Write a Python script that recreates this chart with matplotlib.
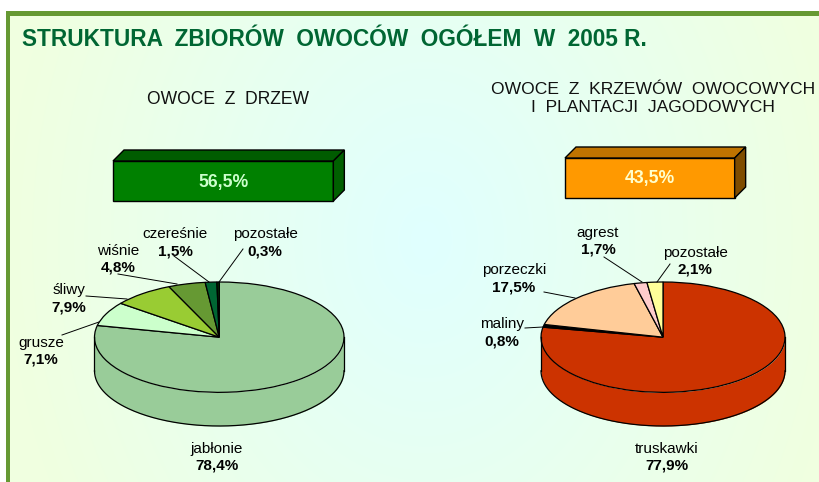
import matplotlib
matplotlib.use("Agg")
import matplotlib.pyplot as plt
import numpy as np
from matplotlib.colors import LinearSegmentedColormap
from matplotlib.patches import Polygon, Rectangle

plt.rcParams['font.family'] = ['Liberation Sans', 'DejaVu Sans']

W, H = 820, 482
DEPTH = 0.61   # pie wall height, in units of the squashed radius

title = "STRUKTURA  ZBIORÓW  OWOCÓW  OGÓŁEM  W  2005 R."
left_title = "OWOCE  Z  DRZEW"
right_title = "OWOCE  Z  KRZEWÓW  OWOCOWYCH\nI  PLANTACJI  JAGODOWYCH"

share_left = 56.5
share_right = 43.5
share_left_label = "56,5%"
share_right_label = "43,5%"

tree_names = ["jabłonie", "grusze", "śliwy", "wiśnie", "czereśnie", "pozostałe"]
tree_values = [78.4, 7.1, 7.9, 4.8, 1.5, 0.3]
tree_colors = ["#99cc99", "#ccffcc", "#99cc33", "#669933", "#006633", "#003300"]

bush_names = ["truskawki", "maliny", "porzeczki", "agrest", "pozostałe"]
bush_values = [77.9, 0.8, 17.5, 1.7, 2.1]
bush_colors = ["#cc3300", "#000000", "#ffcc99", "#ffcccc", "#ffff99"]

# label centres and leader lines, in pixels
tree_label_pos = [(217, 449), (41, 343), (69, 290), (118, 251), (175, 234), (265, 234)]
tree_leaders = [None, ((62, 335), (99, 322)), ((86, 296), (127, 299)),
                ((118, 274), (177, 284)), ((174, 256), (209, 282)), ((243, 249), (219, 282))]
bush_label_pos = [(667, 449), (502, 324), (514, 270), (598, 233), (695, 253)]
bush_leaders = [None, ((525, 328), (543, 327)), ((544, 292), (575, 298)),
                ((604, 257), (642, 282)), ((670, 264), (657, 282))]


def fmt(v):
    return f"{v:.1f}%".replace(".", ",")


def draw_pie(fig, box, values, colors):
    x0, y0, w, h = box
    a = fig.add_axes([x0 / W, 1 - (y0 + h) / H, w / W, h / H], zorder=2)
    # wall first, the first slice always covers the front here
    t = np.linspace(np.pi, 2 * np.pi, 200)
    a.fill_between(np.cos(t), np.sin(t), np.sin(t) - DEPTH, color=colors[0], lw=0, clip_on=False)
    a.plot(np.cos(t), np.sin(t) - DEPTH, color="k", lw=0.9, clip_on=False)
    a.plot([-1, -1], [0, -DEPTH], color="k", lw=0.9, clip_on=False)
    a.plot([1, 1], [0, -DEPTH], color="k", lw=0.9, clip_on=False)
    wedges, _ = a.pie(values, colors=colors, startangle=90, counterclock=False, radius=1,
                      wedgeprops={"edgecolor": "k", "linewidth": 0.9})
    for wd in wedges:
        wd.set_clip_on(False)
    a.set_aspect("auto")
    a.set_xlim(-1, 1)
    a.set_ylim(-1 - DEPTH, 1)
    a.axis("off")
    return a


def draw_bar(ax, x, y, value, label, front, top, side, txt):
    bw = value * 3.9
    ax.barh(y + 20, bw, height=40, left=x, color=front, edgecolor="k", lw=1.0, zorder=3)
    ax.add_patch(Polygon([(x, y), (x + 11, y - 11), (x + bw + 11, y - 11), (x + bw, y)],
                         fc=top, ec="k", lw=1.0, zorder=3))
    ax.add_patch(Polygon([(x + bw, y), (x + bw + 11, y - 11), (x + bw + 11, y + 29), (x + bw, y + 40)],
                         fc=side, ec="k", lw=1.0, zorder=3))
    ax.text(x + bw / 2, y + 21, label, color=txt, fontsize=12.7, fontweight="bold",
            ha="center", va="center", zorder=4)


def draw_labels(ax, names, values, pos, leaders):
    for n, v, p, l in zip(names, values, pos, leaders):
        ax.text(p[0], p[1], n, fontsize=11, ha="center", va="center", color="k", zorder=5)
        ax.text(p[0], p[1] + 17, fmt(v), fontsize=11, fontweight="bold", ha="center", va="center",
                color="k", zorder=5)
        if l is not None:
            ax.plot([l[0][0], l[1][0]], [l[0][1], l[1][1]], color="k", lw=0.7, zorder=5)


fig = plt.figure(figsize=(W / 100, H / 100), dpi=100, facecolor="white")

# background gradient and frame
bg = fig.add_axes([0, 0, 1, 1], zorder=1)
yy, xx = np.mgrid[0:H, 0:W]
d = np.sqrt(((xx - 425) / 420.0) ** 2 + ((yy - 240) / 550.0) ** 2)
cmap = LinearSegmentedColormap.from_list("bg", ["#e0ffff", "#f0ffe0"])
bg.imshow(d, cmap=cmap, vmin=0, vmax=1, extent=(0, W, H, 0), aspect="auto")
bg.add_patch(Rectangle((0, 0), W, 11, fc="white", ec="none"))
bg.add_patch(Rectangle((0, 0), 6, H, fc="white", ec="none"))
bg.add_patch(Rectangle((6, 11), W, 5, fc="#669933", ec="none"))
bg.add_patch(Rectangle((6, 11), 4.5, H, fc="#669933", ec="none"))
bg.set_xlim(0, W)
bg.set_ylim(H, 0)
bg.axis("off")

draw_pie(fig, (94.5, 282, 249.5, 144), tree_values, tree_colors)
draw_pie(fig, (541, 282, 244, 144), bush_values, bush_colors)

# overlay in pixel coordinates
ov = fig.add_axes([0, 0, 1, 1], zorder=3)
ov.patch.set_alpha(0)
ov.set_xlim(0, W)
ov.set_ylim(H, 0)
ov.axis("off")

ov.text(22, 39, title, fontsize=16.3, fontweight="bold", color="#006633", ha="left", va="center")
ov.text(228, 99.5, left_title, fontsize=12.65, ha="center", va="center", color="#111111")
ov.text(653, 98.5, right_title, fontsize=12.6, ha="center", va="center", color="#111111", linespacing=1.2)

draw_bar(ov, 113, 161, share_left, share_left_label, "#008000", "#005c00", "#006000", "#ccffcc")
draw_bar(ov, 565, 158, share_right, share_right_label, "#ff9900", "#c07300", "#7f4c00", "#ffffcc")

draw_labels(ov, tree_names, tree_values, tree_label_pos, tree_leaders)
draw_labels(ov, bush_names, bush_values, bush_label_pos, bush_leaders)

fig.savefig("out.png", dpi=100)
